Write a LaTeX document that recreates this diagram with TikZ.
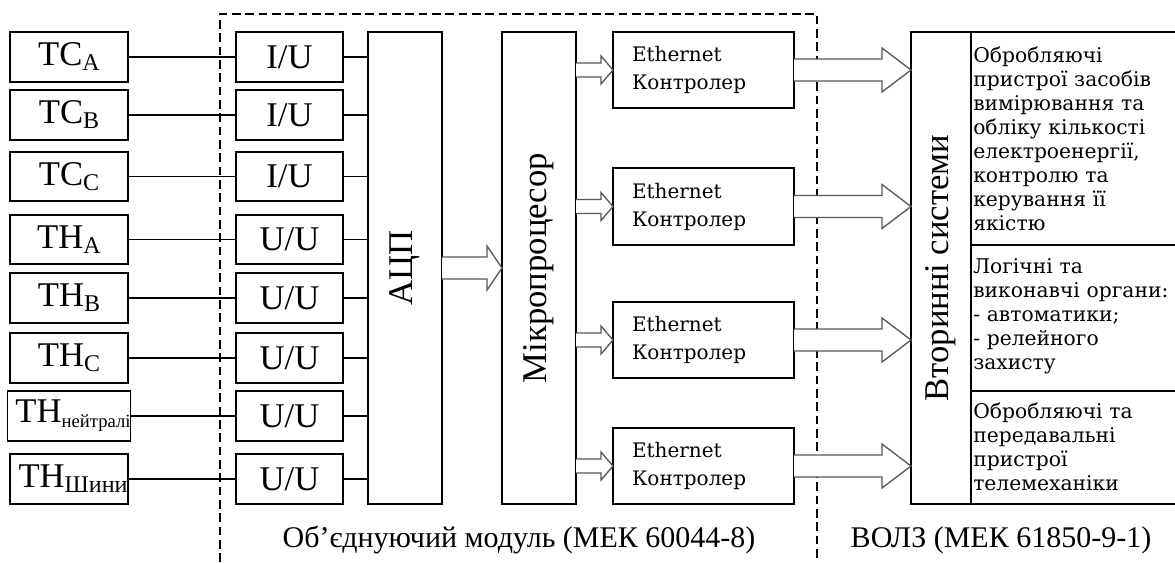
\documentclass[tikz,border=0pt]{standalone}
\usepackage{fontspec}
\setmainfont{Liberation Serif}
\newfontfamily\dvs{DejaVu Serif}
\usetikzlibrary{calc}
\newcommand\pxbox[7][]{\node[boxst,minimum width={(#5-#3)*0.75pt},minimum height={(#6-#4)*0.75pt},#1] (#2) at ({(#3+#5)/2},{(#4+#6)/2}) {#7};}
\newcommand\sbs[2][18]{\raisebox{-3.75pt}{\fontsize{#1}{#1}\selectfont #2}}
\newcommand\barrow[5]{\draw[barst] ($(#1)+(0,-#3)$) -- ($(#2)+(-#5,-#3)$) -- ($(#2)+(-#5,-#4)$) -- (#2) -- ($(#2)+(-#5,#4)$) -- ($(#2)+(-#5,#3)$) -- ($(#1)+(0,#3)$);}
\tikzset{
  boxst/.style={draw, line width=1.1pt, inner sep=0pt, outer sep=0pt, font=\fontsize{26}{30}\selectfont},
  ethst/.style={align=left, text width=107.25pt, inner xsep=14.25pt, font=\dvs\fontsize{15}{21}\selectfont},
  conn/.style={line width=0.9pt},
  barst/.style={line width=1pt, draw=black!65, fill=white, line join=miter},
  dashst/.style={line width=1.1pt, dash pattern=on 6.5pt off 3.5pt},
  rottext/.style={rotate=90, inner sep=0pt, font=\fontsize{26}{30}\selectfont},
  paneltext/.style={anchor=base west, inner sep=0pt, align=left, text width=250pt, font=\dvs\fontsize{15.2}{18}\selectfont},
  lblst/.style={anchor=base, inner sep=0pt, font=\fontsize{22.5}{22.5}\selectfont}
}
\begin{document}
\begin{tikzpicture}[x=0.75pt,y=-0.75pt]
\clip (0,0) rectangle (1175,562);
\fill[white] (0,0) rectangle (1175,562);
% dashed module frame
\draw[dashst] (220,562) -- (220,14) -- (817,14) -- (817,562);
% left sources
\pxbox{tcA}{10}{32}{128}{82}{ТС\sbs{А}}
\pxbox{tcB}{10}{90}{128}{140}{ТС\sbs{В}}
\pxbox{tcC}{10}{152}{128}{201}{ТС\sbs{С}}
\pxbox{thA}{10}{215}{128}{264}{ТН\sbs{А}}
\pxbox{thB}{10}{273}{128}{323}{ТН\sbs{В}}
\pxbox{thC}{10}{333}{128}{383}{ТН\sbs{С}}
\pxbox{thN}{10}{391}{128}{441}{\hspace*{6pt}ТН\sbs[14]{нейтралі}}
\pxbox{thS}{10}{454}{128}{504}{\hspace*{6pt}ТН\sbs{Шини}}
% converters
\pxbox{iu1}{236}{32}{343}{82}{I/U}
\pxbox{iu2}{236}{90}{343}{140}{I/U}
\pxbox{iu3}{236}{152}{343}{201}{I/U}
\pxbox{iu4}{236}{215}{343}{264}{U/U}
\pxbox{iu5}{236}{273}{343}{323}{U/U}
\pxbox{iu6}{236}{333}{343}{383}{U/U}
\pxbox{iu7}{236}{391}{343}{441}{U/U}
\pxbox{iu8}{236}{454}{343}{504}{U/U}
% ADC and microprocessor
\pxbox{adc}{368}{32}{442}{504}{}
\node[rottext] (adct) at (adc.center) {АЦП};
\pxbox{mp}{502}{32}{576}{504}{}
\node[rottext] (mpt) at (mp.center) {Мікропроцесор};
% ethernet controllers
\pxbox[ethst]{e1}{613}{32}{794}{108}{Ethernet\\Контролер}
\pxbox[ethst]{e2}{613}{168}{794}{245}{Ethernet\\Контролер}
\pxbox[ethst]{e3}{613}{302}{794}{378}{Ethernet\\Контролер}
\pxbox[ethst]{e4}{613}{428}{794}{504}{Ethernet\\Контролер}
% secondary systems
\pxbox{vs}{911}{32}{1200}{504}{}
\pxbox{vsl}{911}{32}{971}{504}{}
\node[rottext] (vslt) at (vsl.center) {Вторинні системи};
\pxbox{p1}{971}{32}{1200}{245}{}
\pxbox{p2}{971}{245}{1200}{391}{}
\pxbox{p3}{971}{391}{1200}{504}{}
\node[paneltext] (t1) at (973,62) {Обробляючі\\пристрої засобів\\вимірювання та\\обліку кількості\\електроенергії,\\контролю та\\керування її\\якістю};
\node[paneltext] (t2) at (973,273) {Логічні та\\виконавчі органи:\\- автоматики;\\- релейного\\захисту};
\node[paneltext] (t3) at (973,418) {Обробляючі та\\передавальні\\пристрої\\телемеханіки};
% connectors
\foreach \s/\c in {tcA/iu1,tcB/iu2,tcC/iu3,thA/iu4,thB/iu5,thC/iu6,thN/iu7,thS/iu8}{
  \draw[conn] (\s.east) -- (\c.west);
  \draw[conn] (\c.east) -- (adc.west |- \c.east);
}
\barrow{adc.east}{mp.west}{11}{22}{15}
\foreach \e in {e1,e2,e3,e4}{
  \coordinate (s\e) at (mp.east |- \e.west);
  \coordinate (t\e) at (vs.west |- \e.east);
}
\barrow{se1}{e1.west}{7}{14}{12}
\barrow{se2}{e2.west}{7}{14}{12}
\barrow{se3}{e3.west}{7}{14}{12}
\barrow{se4}{e4.west}{7}{14}{12}
\barrow{e1.east}{te1}{11}{22}{29}
\barrow{e2.east}{te2}{11}{22}{29}
\barrow{e3.east}{te3}{11}{22}{29}
\barrow{e4.east}{te4}{11}{22}{29}
% captions
\node[lblst] (l1) at (519,547) {Об’єднуючий модуль (МЕК 60044-8)};
\node[lblst] (l2) at (1001,547) {ВОЛЗ (МЕК 61850-9-1)};
\end{tikzpicture}
\end{document}
